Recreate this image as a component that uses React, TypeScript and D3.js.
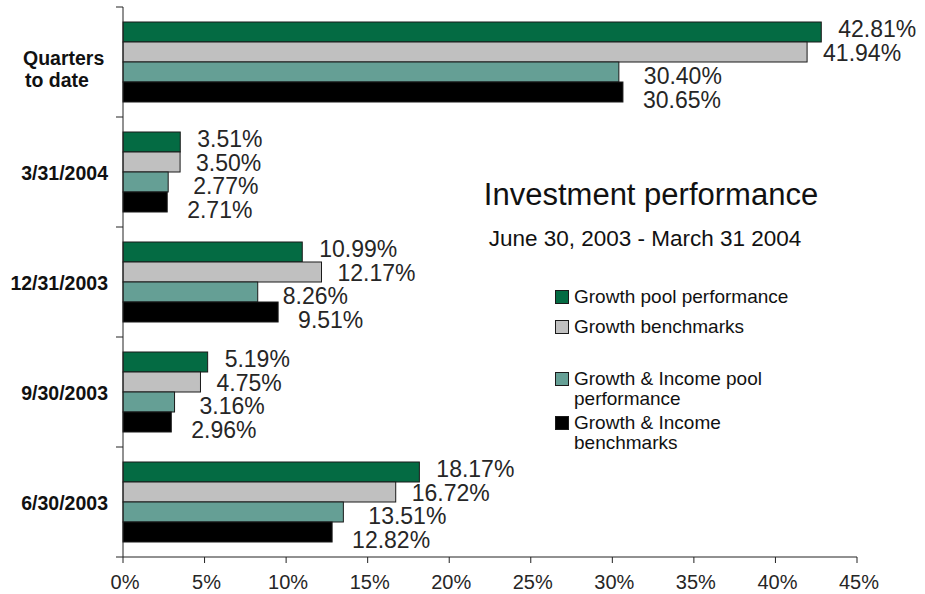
import React from "react";
import * as d3 from "d3";

const categories = ["Quarters to date", "3/31/2004", "12/31/2003", "9/30/2003", "6/30/2003"];
const seriesNames = [
  "Growth pool performance",
  "Growth benchmarks",
  "Growth & Income pool performance",
  "Growth & Income benchmarks",
];
const growthPool = [42.81, 3.51, 10.99, 5.19, 18.17];
const growthBench = [41.94, 3.5, 12.17, 4.75, 16.72];
const giPool = [30.4, 2.77, 8.26, 3.16, 13.51];
const giBench = [30.65, 2.71, 9.51, 2.96, 12.82];
const xTicks = [0, 5, 10, 15, 20, 25, 30, 35, 40, 45];

const seriesValues = [growthPool, growthBench, giPool, giBench];
const colors = ["#046b43", "#c0c0c0", "#659f95", "#000000"];
const labelGaps = [17, 16, 25, 20];
const legendLines = [
  ["Growth pool performance"],
  ["Growth benchmarks"],
  ["Growth & Income pool", "performance"],
  ["Growth & Income", "benchmarks"],
];
const legendBaselines = [303, 333, 385, 429];

const FONT = "'Liberation Sans', Arial, Helvetica, sans-serif";

export default function App() {
  const W = 925;
  const H = 594;
  const x = d3.scaleLinear().domain([0, 45]).range([123, 857]);
  const y = d3.scaleBand<string>().domain(categories).range([7, 557]).paddingInner(0).paddingOuter(0);
  const inner = d3
    .scaleBand<number>()
    .domain(d3.range(seriesValues.length))
    .range([0, y.bandwidth()])
    .paddingInner(0)
    .paddingOuter(0.75);
  const fmt = (v: number) => v.toFixed(2) + "%";

  return (
    <svg
      width={W}
      height={H}
      style={{ position: "absolute", left: 0, top: 0, display: "block", background: "#fff" }}
      fontFamily={FONT}
    >
      {/* bars */}
      {categories.map((c, ci) => (
        <g key={c}>
          {seriesValues.map((vals, si) => (
            <rect
              key={si}
              x={x(0)}
              y={(y(c) as number) + (inner(si) as number)}
              width={x(vals[ci]) - x(0)}
              height={inner.bandwidth()}
              fill={colors[si]}
              stroke="#1a1a1a"
              strokeWidth={1}
            />
          ))}
          {seriesValues.map((vals, si) => {
            const groupCenter = (y(c) as number) + y.bandwidth() / 2 + 2;
            const cy = groupCenter + (si - 1.5) * 23.6;
            return (
              <text
                key={"l" + si}
                x={x(vals[ci]) + labelGaps[si]}
                y={cy + 8.3}
                fontSize={23}
                fill="#262626"
              >
                {fmt(vals[ci])}
              </text>
            );
          })}
        </g>
      ))}

      {/* y axis */}
      <line x1={123} x2={123} y1={7} y2={557} stroke="#222" strokeWidth={1} />
      {[...categories.map((c) => y(c) as number), 557].map((t, i) => (
        <line key={i} x1={116} x2={123} y1={t} y2={t} stroke="#222" strokeWidth={1} />
      ))}
      {/* category labels */}
      {categories.map((c, ci) => {
        const cy = (y(c) as number) + y.bandwidth() / 2;
        if (ci === 0) {
          return (
            <g key={c}>
              <text x={23} y={65} fontSize={19.5} fontWeight="bold" fill="#111">
                Quarters
              </text>
              <text x={25} y={87} fontSize={19.5} fontWeight="bold" fill="#111">
                to date
              </text>
            </g>
          );
        }
        return (
          <text key={c} x={108} y={cy + 7.5} fontSize={19.5} fontWeight="bold" textAnchor="end" fill="#111">
            {c}
          </text>
        );
      })}

      {/* x axis */}
      <line x1={123} x2={857} y1={557} y2={557} stroke="#222" strokeWidth={1} />
      {xTicks.map((t) => (
        <g key={t}>
          <line x1={x(t)} x2={x(t)} y1={557} y2={563} stroke="#222" strokeWidth={1} />
          <text x={x(t) + 2} y={589} fontSize={20} textAnchor="middle" fill="#262626">
            {t + "%"}
          </text>
        </g>
      ))}

      {/* title */}
      <text x={651} y={205} fontSize={31} textAnchor="middle" fill="#111">
        Investment performance
      </text>
      <text x={645} y={246} fontSize={22.5} textAnchor="middle" fill="#111">
        June 30, 2003 - March 31 2004
      </text>

      {/* legend */}
      {seriesNames.map((s, i) => (
        <g key={s}>
          <rect
            x={555.5}
            y={legendBaselines[i] - 12.5}
            width={13}
            height={13}
            fill={colors[i]}
            stroke="#1a1a1a"
            strokeWidth={1}
          />
          {legendLines[i].map((ln, li) => (
            <text key={li} x={574} y={legendBaselines[i] + li * 20} fontSize={19} fill="#111">
              {ln}
            </text>
          ))}
        </g>
      ))}
    </svg>
  );
}
